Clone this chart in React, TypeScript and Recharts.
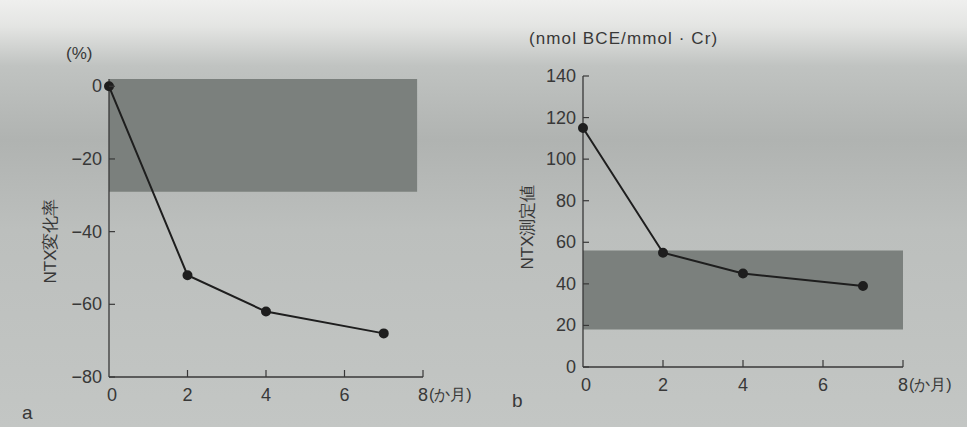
import { LineChart, Line, XAxis, YAxis, ReferenceArea } from 'recharts';

const months = [0, 2, 4, 7];
const changeRate = [0, -52, -62, -68];
const measured = [115, 55, 45, 39];

const xTicks = [0, 2, 4, 6, 8];
const rateTicks = [-80, -60, -40, -20, 0];
const measuredTicks = [0, 20, 40, 60, 80, 100, 120, 140];

// normal range bands
const rateBand = { x1: 0, x2: 7.85, y1: -29, y2: 2 };
const measuredBand = { x1: 0, x2: 8, y1: 18, y2: 56 };

const rateData = months.map((m, i) => ({ month: m, value: changeRate[i] }));
const measuredData = months.map((m, i) => ({ month: m, value: measured[i] }));

const FONT = '"Liberation Sans", Arial, sans-serif';
const INK = '#383838';
const BAND = '#7b807d';

function YTick(props: any) {
  const { x, y, payload } = props;
  const v = payload.value;
  const label = v < 0 ? `\u2212${Math.abs(v)}` : `${v}`;
  return (
    <g>
      <line x1={x} y1={y} x2={x + 6} y2={y} stroke={INK} strokeWidth={1.2} />
      <text x={x - 7} y={y} textAnchor="end" dominantBaseline="central" fontSize={18} fill={INK} fontFamily={FONT}>
        {label}
      </text>
    </g>
  );
}

function XTick(props: any) {
  const { x, y, payload } = props;
  const v = payload.value;
  return (
    <g>
      {v !== 0 && <line x1={x} y1={y} x2={x} y2={y - 7} stroke={INK} strokeWidth={1.2} />}
      <text x={v === 0 ? x + 3 : x} y={y + 18} textAnchor="middle" dominantBaseline="central" fontSize={18} fill={INK} fontFamily={FONT}>
        {v}
      </text>
      {v === 8 && (
        <text x={x + 6} y={y + 17} textAnchor="start" dominantBaseline="central" fontSize={16} fill={INK} fontFamily={FONT}>
          (か月)
        </text>
      )}
    </g>
  );
}

function Panel({ data, band, ticks, domain, width, margin }: any) {
  return (
    <LineChart width={width} height={427} data={data} margin={margin}>
      <XAxis
        dataKey="month"
        type="number"
        domain={[0, 8]}
        ticks={xTicks}
        tickSize={0}
        tickMargin={0}
        tickLine={false}
        axisLine={{ stroke: INK, strokeWidth: 1.3 }}
        tick={<XTick />}
        height={30}
      />
      <YAxis
        type="number"
        domain={domain}
        ticks={ticks}
        allowDataOverflow
        tickSize={0}
        tickMargin={0}
        tickLine={false}
        axisLine={{ stroke: INK, strokeWidth: 1.3 }}
        tick={<YTick />}
        width={40}
      />
      <ReferenceArea x1={band.x1} x2={band.x2} y1={band.y1} y2={band.y2} fill={BAND} fillOpacity={1} stroke="none" ifOverflow="visible" />
      <Line
        dataKey="value"
        stroke="#1e1e1e"
        strokeWidth={2}
        dot={{ r: 4, fill: '#1e1e1e', stroke: '#1e1e1e' }}
        isAnimationActive={false}
      />
    </LineChart>
  );
}

const txt = { position: 'absolute' as const, fontFamily: FONT, color: INK, whiteSpace: 'nowrap' as const };

export default function App() {
  return (
    <div
      style={{
        position: 'absolute',
        left: 0,
        top: 0,
        width: 967,
        height: 427,
        overflow: 'hidden',
        background: 'linear-gradient(180deg, #efefee 0px, #e4e5e3 26px, #c0c3c1 66px, #b0b3b1 140px, #bcbfbd 230px, #c3c6c4 427px)',
      }}
    >
      <div style={{ position: 'absolute', left: 0, top: 0 }}>
        <Panel
          data={rateData}
          band={rateBand}
          ticks={rateTicks}
          domain={[-80, 2]}
          width={480}
          margin={{ top: 79, right: 57, bottom: 20, left: 69 }}
        />
      </div>
      <div style={{ position: 'absolute', left: 480, top: 0 }}>
        <Panel
          data={measuredData}
          band={measuredBand}
          ticks={measuredTicks}
          domain={[0, 140]}
          width={487}
          margin={{ top: 76, right: 64, bottom: 30, left: 63 }}
        />
      </div>

      <div style={{ ...txt, left: 66, top: 44, fontSize: 17 }}>(%)</div>
      <div style={{ ...txt, left: 529, top: 29, fontSize: 17, letterSpacing: 1.1 }}>(nmol BCE/mmol · Cr)</div>

      <div style={{ ...txt, left: 50, top: 241, fontSize: 17, transform: 'translate(-50%, -50%) rotate(-90deg)' }}>
        NTX変化率
      </div>
      <div style={{ ...txt, left: 527, top: 227, fontSize: 17, transform: 'translate(-50%, -50%) rotate(-90deg)' }}>
        NTX測定値
      </div>

      <div style={{ ...txt, left: 22, top: 402, fontSize: 19 }}>a</div>
      <div style={{ ...txt, left: 512, top: 390, fontSize: 19 }}>b</div>
    </div>
  );
}
